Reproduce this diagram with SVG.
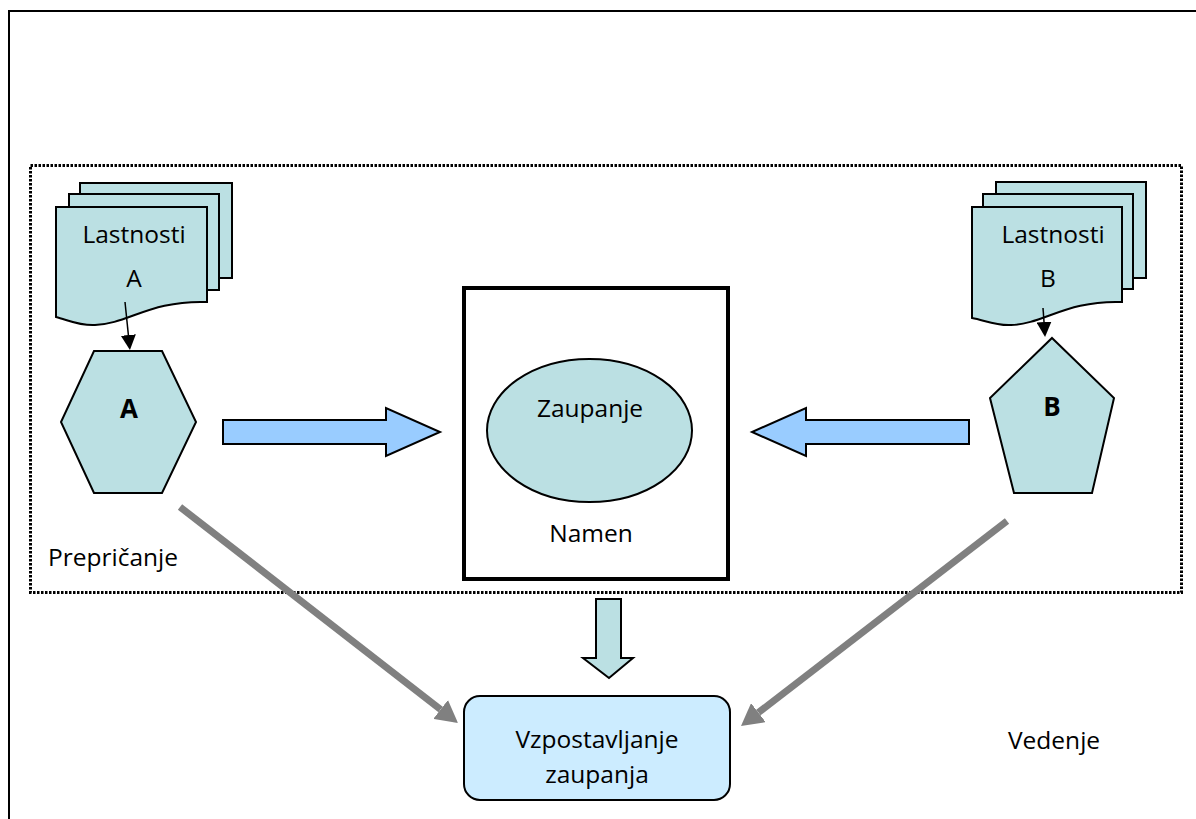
<svg xmlns="http://www.w3.org/2000/svg" width="1196" height="819" viewBox="0 0 1196 819">
  <style>
    .lbl { font-family: "Open Sans", "Noto Sans", "DejaVu Sans", sans-serif; font-size: 24.5px; fill: #000; text-anchor: middle; }
    .big { font-weight: bold; font-size: 26px; }
    .start { text-anchor: start; }
    .shape { fill: #BBE0E3; stroke: #000; stroke-width: 2; stroke-linejoin: miter; }
    .block { fill: #99CCFF; stroke: #000; stroke-width: 2; }
    .thin { stroke: #000; stroke-width: 1.5; fill: none; }
    .gray { stroke: #808080; stroke-width: 7; fill: none; }
  </style>
  <defs>
    <marker id="headBlack" markerUnits="userSpaceOnUse" markerWidth="15" markerHeight="15" refX="0" refY="7.5" orient="auto">
      <path d="M0,0 L15,7.5 L0,15 z" fill="#000"/>
    </marker>
    <marker id="headGray" markerUnits="userSpaceOnUse" markerWidth="24" markerHeight="24" refX="0" refY="12" orient="auto">
      <path d="M0,0 L22,12 L0,24 z" fill="#808080"/>
    </marker>
  </defs>

  <rect width="1196" height="819" fill="#fff"/>

  <!-- outer frame -->
  <path d="M9,819 V11 H1196" fill="none" stroke="#000" stroke-width="2"/>

  <!-- dotted boundary of the persuasion area -->
  <rect id="region" x="30.5" y="165.5" width="1151" height="427" fill="none" stroke="#000" stroke-width="3" stroke-dasharray="2.5,1.5"/>

  <!-- properties of A: stacked documents -->
  <g id="docA">
    <rect class="shape" x="80" y="183" width="152" height="95"/>
    <rect class="shape" x="69" y="194" width="150" height="96"/>
    <path class="shape" d="M56,207 H207 V302 C150,300 128,324 95,325 C80,326 68,320 56,317 Z"/>
    <text class="lbl" x="134" y="243">Lastnosti</text>
    <text class="lbl" x="134" y="287">A</text>
  </g>

  <!-- party A -->
  <g id="nodeA">
    <polygon class="shape" points="94,351 162,351 196,422 162,493 94,493 61,422"/>
    <text class="lbl big" x="129" y="418">A</text>
  </g>

  <!-- properties of B: stacked documents -->
  <g id="docB">
    <rect class="shape" x="996" y="182" width="150" height="96"/>
    <rect class="shape" x="983" y="194" width="150" height="95"/>
    <path class="shape" d="M972,207 H1122 V302 C1066,300 1044,324 1011,325 C996,326 984,320 972,318 Z"/>
    <text class="lbl" x="1053" y="243">Lastnosti</text>
    <text class="lbl" x="1048" y="287">B</text>
  </g>

  <!-- party B -->
  <g id="nodeB">
    <polygon class="shape" points="1052,338 1114,398 1092,493 1014,493 990,398"/>
    <text class="lbl big" x="1052" y="416">B</text>
  </g>

  <!-- purpose box with trust -->
  <g id="purpose">
    <rect x="464" y="288" width="264" height="291" fill="#fff" stroke="#000" stroke-width="4"/>
    <ellipse class="shape" cx="589.5" cy="430.5" rx="102.5" ry="71.5" stroke-width="1.5"/>
    <text class="lbl" x="590" y="417">Zaupanje</text>
    <text class="lbl" x="591" y="542">Namen</text>
  </g>

  <!-- building trust -->
  <g id="building">
    <rect x="464" y="696" width="266" height="104" rx="16" ry="16" fill="#CCECFF" stroke="#000" stroke-width="2"/>
    <text class="lbl" x="597" y="748">Vzpostavljanje</text>
    <text class="lbl" x="597" y="783">zaupanja</text>
  </g>

  <!-- free labels -->
  <g id="labels">
    <text class="lbl start" x="48" y="566">Prepričanje</text>
    <text class="lbl start" x="1008" y="749">Vedenje</text>
  </g>

  <!-- connectors -->
  <g id="connectors">
    <line class="thin" x1="125" y1="302" x2="128.4" y2="335.1" marker-end="url(#headBlack)"/>
    <line class="thin" x1="1043" y1="308" x2="1044" y2="322" marker-end="url(#headBlack)"/>
    <polygon class="block" points="223,420 386,420 386,408 440,432 386,456 386,444 223,444"/>
    <polygon class="block" points="969,420 806,420 806,408 752,432 806,456 806,444 969,444"/>
    <polygon class="shape" points="596,599 621,599 621,658 633,658 609,678 583,658 596,658" stroke-width="1.5"/>
    <line class="gray" x1="180" y1="507" x2="440.6" y2="709.5" marker-end="url(#headGray)"/>
    <line class="gray" x1="1007" y1="521" x2="758.4" y2="712.6" marker-end="url(#headGray)"/>
  </g>
</svg>
